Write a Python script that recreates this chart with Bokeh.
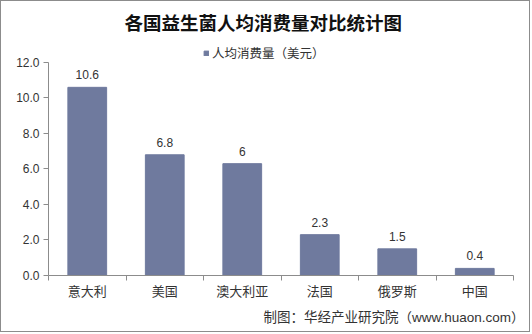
from bokeh.plotting import figure
from bokeh.models import (Range1d, FixedTicker, NumeralTickFormatter, Legend, LegendItem,
                          Title, ColumnDataSource)
from bokeh.core.properties import value
from bokeh.embed import file_html
from bokeh.resources import INLINE

title_text = "各国益生菌人均消费量对比统计图"
series_name = "人均消费量（美元）"
categories = ["意大利", "美国", "澳大利亚", "法国", "俄罗斯", "中国"]
values = [10.6, 6.8, 6.3, 2.3, 1.5, 0.4]
value_labels = ["10.6", "6.8", "6", "2.3", "1.5", "0.4"]
y_ticks = [0, 2, 4, 6, 8, 10, 12]
footer_text = "制图：华经产业研究院（www.huaon.com）"

FONT = "'Liberation Sans', 'Noto Sans CJK SC', sans-serif"
CJK = "'Noto Sans CJK SC', sans-serif"
BAR = "#6f7a9e"
AXIS = "#8c8c8c"

n = len(categories)
xs = [i + 0.5 for i in range(n)]
src = ColumnDataSource(dict(x=xs, top=values, lab=value_labels, cat=categories))

# frame extends above 12 so the legend can sit inside it; axis line is bounded to 0..12
p = figure(width=530, height=332, output_backend="svg", toolbar_location=None,
           x_range=Range1d(0, n), y_range=Range1d(0, 13.52),
           min_border_left=47, min_border_right=18, min_border_top=34, min_border_bottom=58)
p.styles = {"border": "1px solid #8c8c8c"}
p.outline_line_color = None
p.xgrid.visible = False
p.ygrid.visible = False
p.background_fill_color = "white"
p.border_fill_color = "white"

r = p.vbar(x="x", top="top", width=0.5, source=src, color=BAR)
p.text(x="x", y="top", text="lab", source=src, text_align="center", text_baseline="bottom",
       y_offset=-8, text_font=value(FONT), text_font_size="12px", text_color="#333333")

# y axis
ya = p.yaxis[0]
ya.ticker = FixedTicker(ticks=y_ticks)
ya.formatter = NumeralTickFormatter(format="0.0")
ya.bounds = (min(y_ticks), max(y_ticks))
ya.axis_line_color = AXIS
ya.major_tick_line_color = AXIS
ya.major_tick_out = 5
ya.major_tick_in = 0
ya.minor_tick_line_color = None
ya.major_label_text_font = FONT
ya.major_label_text_font_size = "12px"
ya.major_label_text_color = "#333333"
ya.major_label_standoff = 4

# x axis
xa = p.xaxis[0]
xa.ticker = FixedTicker(ticks=xs, minor_ticks=list(range(n + 1)))
xa.major_label_overrides = {x: c for x, c in zip(xs, categories)}
xa.axis_line_color = AXIS
xa.major_tick_out = 0
xa.major_tick_in = 0
xa.minor_tick_out = 5
xa.minor_tick_in = 0
xa.minor_tick_line_color = AXIS
xa.major_label_text_font = CJK
xa.major_label_text_font_size = "13px"
xa.major_label_text_color = "#333333"
xa.major_label_standoff = 0

legend = Legend(items=[LegendItem(label=series_name, renderers=[r])],
                orientation="horizontal", location=(155, 213),
                label_text_font=CJK, label_text_font_size="12.5px", label_text_color="#333333",
                label_height=14, glyph_width=6, glyph_height=6, label_standoff=3,
                border_line_color=None, background_fill_alpha=0, padding=0, margin=0)
p.add_layout(legend)

t = Title(text=title_text, align="left", vertical_align="middle", text_font=CJK,
          text_font_size="18.5px", text_font_style="bold", text_color="#111111",
          standoff=0, offset=76)
p.add_layout(t, "above")

f = Title(text=footer_text, align="right", text_font=FONT, text_font_size="13.5px",
          text_font_style="normal", text_color="#333333", offset=-11)
p.add_layout(f, "below")

open("out.html", "w").write(file_html(p, INLINE))
